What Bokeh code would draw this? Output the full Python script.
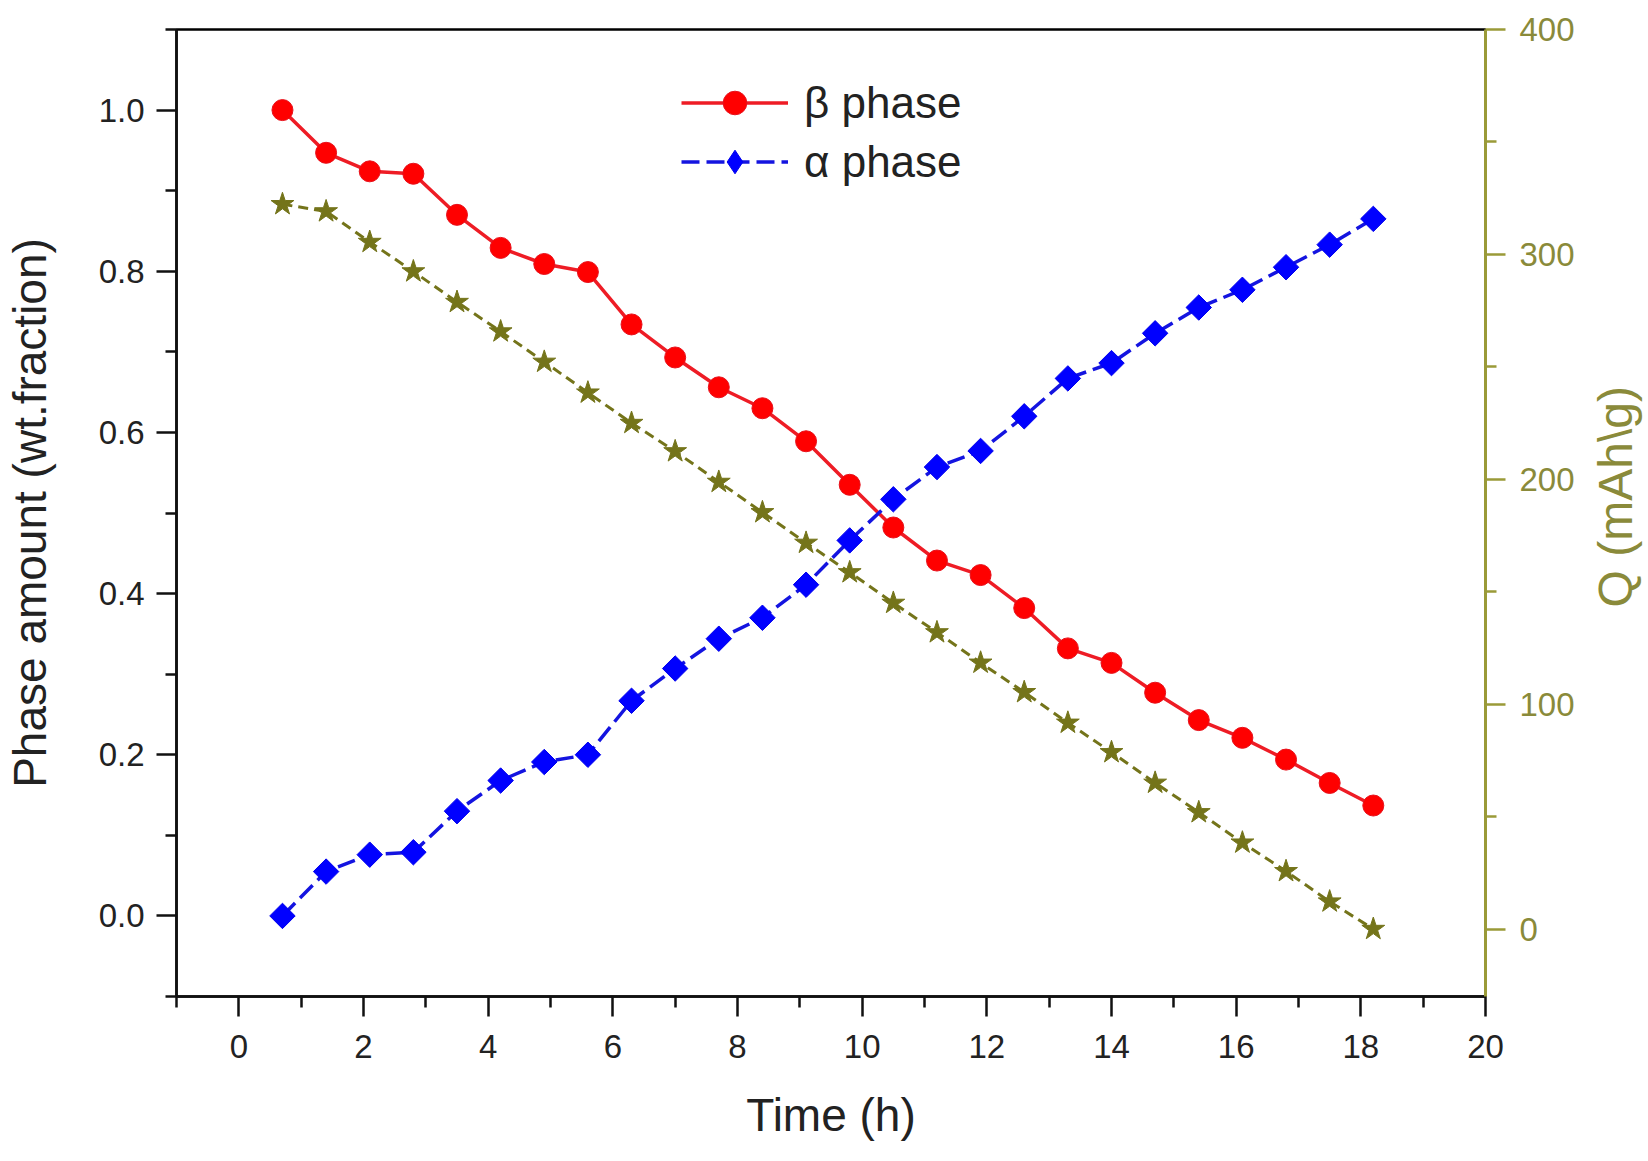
from bokeh.plotting import figure
from bokeh.layouts import row
from bokeh.models import (LinearAxis, Range1d, FixedTicker, Legend, LegendItem,
                          CustomJSTickFormatter, Label)
from bokeh.embed import file_html
from bokeh.resources import INLINE
import math

# ---- data ----
time_h = [0.7, 1.4, 2.1, 2.8, 3.5, 4.2, 4.9, 5.6, 6.3, 7.0, 7.7, 8.4, 9.1,
          9.8, 10.5, 11.2, 11.9, 12.6, 13.3, 14.0, 14.7, 15.4, 16.1, 16.8, 17.5, 18.2]
beta_phase = [1.000, 0.947, 0.924, 0.921, 0.870, 0.829, 0.809, 0.799, 0.734, 0.693,
              0.656, 0.630, 0.589, 0.535, 0.482, 0.441, 0.423, 0.382, 0.332, 0.314,
              0.277, 0.243, 0.221, 0.194, 0.165, 0.137]
alpha_phase = [0.000, 0.055, 0.076, 0.079, 0.130, 0.168, 0.191, 0.200, 0.267, 0.307,
               0.344, 0.370, 0.411, 0.466, 0.517, 0.557, 0.577, 0.620, 0.667, 0.686,
               0.723, 0.755, 0.777, 0.805, 0.833, 0.865]
q_capacity = [322.3, 319.1, 305.5, 292.4, 278.8, 265.7, 252.2, 238.5, 225.0, 212.4,
              198.8, 185.3, 171.7, 158.6, 145.0, 131.9, 118.4, 105.3, 91.7, 78.6,
              65.0, 51.9, 38.4, 25.7, 12.2, 0.0]

x_major = [0, 2, 4, 6, 8, 10, 12, 14, 16, 18, 20]
x_minor = [-1, 1, 3, 5, 7, 9, 11, 13, 15, 17, 19]
y_major = [0.0, 0.2, 0.4, 0.6, 0.8, 1.0]
y_minor = [-0.1, 0.1, 0.3, 0.5, 0.7, 0.9, 1.1]
q_major = [0, 100, 200, 300, 400]
q_minor = [50, 150, 250, 350]

FONT = "Liberation Sans"
TXT = "#222222"
OLIVE_AX = "#9a9a38"
OLIVE_TXT = "#8a8a3a"
OLIVE_MARK = "#74741a"

TITLE_W = 70  # width of the strip that carries the right-hand axis title

p = figure(width=1648 - TITLE_W, height=1161, output_backend="svg", toolbar_location=None,
           x_range=Range1d(-1, 20), y_range=Range1d(-0.1, 1.1),
           min_border_left=176, min_border_right=163 - TITLE_W, min_border_top=29,
           min_border_bottom=165, x_axis_label="Time (h)",
           y_axis_label="Phase amount (wt.fraction)")
p.extra_y_ranges = {"q": Range1d(-30, 400)}
p.grid.visible = False
p.outline_line_color = "black"
p.outline_line_width = 2.5
p.border_fill_color = "white"
p.background_fill_color = "white"

def style_axis(ax, color, txt):
    ax.axis_line_color = color
    ax.axis_line_width = 2.5
    ax.major_tick_line_color = color
    ax.minor_tick_line_color = color
    ax.major_tick_line_width = 2.5
    ax.minor_tick_line_width = 2.5
    ax.major_tick_in = 0
    ax.major_tick_out = 20
    ax.minor_tick_in = 0
    ax.minor_tick_out = 11
    ax.major_label_text_font = FONT
    ax.major_label_text_font_size = "33px"
    ax.major_label_text_color = txt
    ax.axis_label_text_font = FONT
    ax.axis_label_text_font_size = "46px"
    ax.axis_label_text_font_style = "normal"
    ax.axis_label_text_color = txt

xa = p.xaxis[0]
style_axis(xa, "#111111", TXT)
xa.ticker = FixedTicker(ticks=x_major, minor_ticks=x_minor)
xa.major_label_standoff = 18
xa.axis_label_standoff = 28

ya = p.yaxis[0]
style_axis(ya, "#111111", TXT)
ya.ticker = FixedTicker(ticks=y_major, minor_ticks=y_minor)
ya.major_label_standoff = 12
ya.axis_label_standoff = 40
ya.formatter = CustomJSTickFormatter(code="return tick.toFixed(1);")

qa = LinearAxis(y_range_name="q")
style_axis(qa, OLIVE_AX, OLIVE_TXT)
qa.axis_line_width = 3
qa.ticker = FixedTicker(ticks=q_major, minor_ticks=q_minor)
qa.major_label_standoff = 14
p.add_layout(qa, "right")

# Q (stars, olive dashed)
p.line(time_h, q_capacity, y_range_name="q", line_color=OLIVE_MARK, line_width=3,
       line_dash="10 6")
p.scatter(time_h, q_capacity, y_range_name="q", marker="star", size=24,
          fill_color=OLIVE_MARK, line_color=OLIVE_MARK)

# beta phase (red circles, solid)
rb_l = p.line(time_h, beta_phase, line_color="#ee1c25", line_width=3.5)
rb_s = p.scatter(time_h, beta_phase, marker="circle", size=21,
                 fill_color="#ff0000", line_color="#e8101a")

# alpha phase (blue diamonds, dashed)
ra_l = p.line(time_h, alpha_phase, line_color="#1414e0", line_width=3.5, line_dash="18 7")
ra_s = p.scatter(time_h, alpha_phase, marker="square", angle=math.pi / 4, size=18,
                 fill_color="#0000ff", line_color="#0000ee")
# legend-only diamond glyph (a single NaN point, so nothing is drawn in the plot)
ra_leg = p.scatter([float("nan")], [float("nan")], marker="diamond", size=28,
                   fill_color="#0000ff", line_color="#0000ee")

legend = Legend(items=[LegendItem(label="β phase", renderers=[rb_l, rb_s]),
                       LegendItem(label="α phase", renderers=[ra_l, ra_leg])],
                location=(505, 805), padding=0, margin=0, spacing=0,
                glyph_width=107, glyph_height=59, label_height=59,
                label_standoff=16, border_line_color=None,
                background_fill_alpha=0,
                label_text_font=FONT, label_text_font_size="44px",
                label_text_color=TXT)
p.add_layout(legend, "center")

# narrow strip on the right carrying the Q axis title, reading bottom-to-top
p2 = figure(width=TITLE_W, height=1161, output_backend="svg", toolbar_location=None,
            x_range=Range1d(0, TITLE_W), y_range=Range1d(0, 1161),
            min_border=0, x_axis_location=None, y_axis_location=None)
p2.grid.visible = False
p2.outline_line_color = None
p2.border_fill_color = "white"
p2.background_fill_color = "white"
p2.add_layout(Label(x=37, y=600, text="Q (mAh\\g)", angle=math.pi / 2,
                    text_align="center", text_baseline="middle", text_font=FONT,
                    text_font_size="48px", text_color=OLIVE_TXT))

layout = row(p, p2, spacing=0)
open("out.html", "w").write(file_html(layout, INLINE))
